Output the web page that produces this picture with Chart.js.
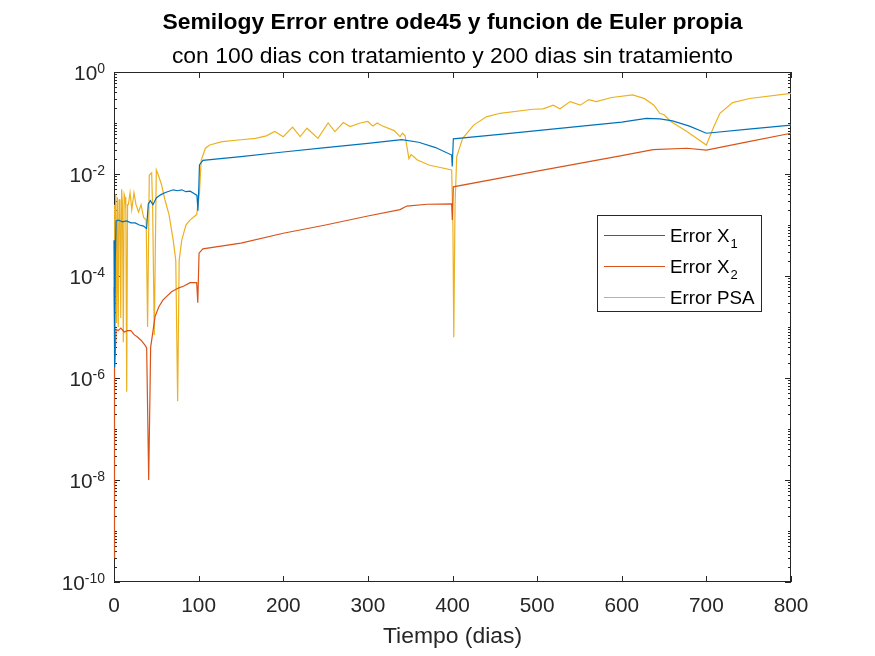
<!DOCTYPE html>
<html>
<head>
<meta charset="utf-8">
<script src="https://cdn.jsdelivr.net/npm/chart.js@4.4.1/dist/chart.umd.min.js"></script>
<style>
    html, body { margin: 0; padding: 0; background: #fff; }
    canvas { display: block; }
</style>
</head>
<body>
<canvas id="errChart" width="875" height="656"></canvas>
<script>
// Error X1 (blue)
const x1Days = [0, 0.7, 1.5, 2.5, 5, 10, 15, 20, 25, 30, 35, 38.5, 40.5, 43, 46, 50, 55, 60, 65, 70, 75, 80, 85, 90, 95, 98, 99.2, 100.3, 101, 105,
    150, 200, 250, 300, 340, 360, 380, 399, 399.7, 401, 456, 500, 550, 600, 629, 645, 660, 680, 700, 750, 800];
const x1Vals = [5e-4, 1.6e-6, 2e-4, 1.2e-3, 1.25e-3, 1.15e-3, 1.2e-3, 1.1e-3, 1.1e-3, 1.0e-3, 9.5e-4, 8.5e-4, 2.6e-3, 3.0e-3, 2.5e-3, 3.4e-3, 3.9e-3, 4.3e-3, 4.6e-3, 4.9e-3, 4.7e-3, 4.9e-3, 4.5e-3, 4.6e-3, 4.1e-3, 3.8e-3, 1.9e-3, 6e-3, 1.5e-2, 1.85e-2,
    2.2e-2, 2.7e-2, 3.3e-2, 4.0e-2, 4.7e-2, 4.2e-2, 3.3e-2, 2.35e-2, 1.4e-2, 4.9e-2, 6.0e-2, 7.1e-2, 8.6e-2, 1.04e-1, 1.23e-1, 1.2e-1, 1.1e-1, 8.7e-2, 6.3e-2, 7.6e-2, 9.1e-2];

// Error X2 (red)
const x2Days = [0, 0.4, 0.8, 1.5, 2.5, 5, 8, 12, 16, 20, 24, 27, 32, 37, 38.6, 41, 43.3, 48.5, 53, 58, 68, 76, 82, 90, 97.7, 99, 100.5, 105,
    150, 200, 250, 300, 338, 346, 370, 399, 399.8, 401, 456, 500, 550, 600, 637, 677, 700, 750, 800];
const x2Vals = [3e-10, 2e-8, 1.5e-6, 3e-6, 9e-6, 8.5e-6, 9.5e-6, 8e-6, 8.5e-6, 8.5e-6, 7e-6, 6.5e-6, 5.5e-6, 4.3e-6, 3.9e-6, 1e-8, 4e-6, 1.6e-5, 2.5e-5, 3.4e-5, 4.9e-5, 5.8e-5, 6.3e-5, 7.4e-5, 7.4e-5, 3e-5, 2.8e-4, 3.4e-4,
    4.4e-4, 6.9e-4, 1.0e-3, 1.5e-3, 2.0e-3, 2.35e-3, 2.55e-3, 2.6e-3, 1.25e-3, 5.6e-3, 8.3e-3, 1.14e-2, 1.62e-2, 2.3e-2, 3.0e-2, 3.2e-2, 2.95e-2, 4.3e-2, 6.3e-2];

// Error PSA (yellow)
const psaDays = [0, 0.5, 1, 2, 3, 4, 5, 6, 7, 8, 9, 10, 11, 12, 13, 14, 15, 16, 17, 19, 21, 23.6, 26, 29, 32, 35, 38, 39.7, 41.7, 44.5, 45.7, 47.6, 50, 52, 56, 60, 65, 70, 73, 75.2, 77, 80, 85, 90, 97.7, 101, 103, 108, 113, 128, 150, 167, 180, 190, 200, 211, 220, 228, 241, 253, 261, 271, 279, 291, 300, 306, 311, 316, 331, 338, 341, 344, 348.5, 351, 354, 358, 372, 399, 400.5, 401.5, 403, 405, 412, 425, 440, 456, 495, 507, 519, 527, 539, 551, 561, 570, 588, 613, 627, 638, 645, 650, 658, 677, 700, 708, 716, 731, 751, 800];
const psaVals = [6e-5, 2.5e-3, 1e-5, 4e-3, 1.2e-5, 3.5e-3, 1e-5, 3.2e-3, 2.5e-3, 1.5e-5, 5e-3, 2.5e-3, 5e-6, 4e-3, 3.5e-3, 2e-3, 5.4e-7, 2.5e-3, 2.5e-3, 4.3e-3, 2e-3, 4.3e-3, 2.5e-3, 1.8e-3, 2.5e-3, 1.4e-3, 1.26e-3, 1e-5, 9.5e-3, 1.05e-2, 2e-3, 7e-6, 1.2e-2, 1.0e-2, 6.3e-3, 3.2e-3, 1.6e-3, 5e-4, 2e-4, 3.5e-7, 2e-4, 5e-4, 1.0e-3, 1.26e-3, 1.6e-3, 4.3e-3, 1.86e-2, 3.2e-2, 3.7e-2, 4.3e-2, 4.7e-2, 5.0e-2, 5.6e-2, 6.8e-2, 5.4e-2, 8.3e-2, 5.4e-2, 7.9e-2, 5.0e-2, 1.0e-1, 6.8e-2, 1.02e-1, 8.5e-2, 1.0e-1, 1.07e-1, 8.7e-2, 1.0e-1, 8.9e-2, 7.1e-2, 5.4e-2, 6.3e-2, 5.6e-2, 2.0e-2, 2.4e-2, 2.2e-2, 1.9e-2, 1.5e-2, 1.2e-2, 1e-3, 6.3e-6, 2.5e-3, 2.2e-2, 5.0e-2, 9.1e-2, 1.32e-1, 1.55e-1, 1.86e-1, 1.9e-1, 2.24e-1, 1.9e-1, 2.63e-1, 2.24e-1, 2.88e-1, 2.63e-1, 3.16e-1, 3.55e-1, 3.0e-1, 2.24e-1, 1.55e-1, 1.45e-1, 1.07e-1, 6.8e-2, 3.7e-2, 7.9e-2, 1.55e-1, 2.51e-1, 3.02e-1, 3.8e-1];

const xTicks = [0, 100, 200, 300, 400, 500, 600, 700, 800];
const yTicks = [1e-10, 1e-8, 1e-6, 1e-4, 1e-2, 1];
const seriesNames = [['Error X', '1'], ['Error X', '2'], ['Error PSA', '']];
const seriesColors = ['#0072BD', '#D95319', '#EDB120'];

const FONT = '"Liberation Sans", Arial, Helvetica, sans-serif';
const AXIS = '#262626';

function toPoints(days, vals) {
    return days.map((d, i) => ({ x: d, y: vals[i] }));
}

/**
 * MATLAB-like box and inward ticks, drawn under the data
 */
const matlabAxes = {
    id: 'matlabAxes',
    beforeDatasetsDraw(chart) {
        const ctx = chart.ctx;
        const a = chart.chartArea;
        const xs = chart.scales.x;
        const ys = chart.scales.y;

        ctx.save();
        ctx.strokeStyle = AXIS;
        ctx.lineWidth = 1;
        ctx.strokeRect(a.left + 0.5, a.top + 0.5, a.right - a.left - 1, a.bottom - a.top - 1);

        ctx.beginPath();
        xTicks.forEach(v => {
            const px = Math.round(xs.getPixelForValue(v)) + 0.5;
            ctx.moveTo(px, a.bottom);
            ctx.lineTo(px, a.bottom - 6);
            ctx.moveTo(px, a.top);
            ctx.lineTo(px, a.top + 6);
        });

        // majors on labelled decades, minors elsewhere
        for (let k = -10; k <= 0; k++) {
            for (let d = 1; d <= 9; d++) {
                const v = d * Math.pow(10, k);
                if (v > 1) break;
                const major = d === 1 && yTicks.includes(v);
                const len = major ? 6 : 3;
                const py = Math.round(ys.getPixelForValue(v)) + 0.5;
                ctx.moveTo(a.left, py);
                ctx.lineTo(a.left + len, py);
                ctx.moveTo(a.right, py);
                ctx.lineTo(a.right - len, py);
            }
        }
        ctx.stroke();
        ctx.restore();
    }
};

/**
 * 10^n labels, titles and legend
 */
const matlabText = {
    id: 'matlabText',
    afterDraw(chart) {
        const ctx = chart.ctx;
        const a = chart.chartArea;
        const ys = chart.scales.y;

        ctx.save();
        ctx.fillStyle = AXIS;
        ctx.textBaseline = 'alphabetic';
        yTicks.forEach(v => {
            const py = ys.getPixelForValue(v);
            const exp = String(Math.round(Math.log10(v)));
            const right = a.left - 9;
            ctx.textAlign = 'right';
            ctx.font = '14px ' + FONT;
            ctx.fillText(exp, right, py + 1);
            const ew = ctx.measureText(exp).width;
            ctx.font = '20.8px ' + FONT;
            ctx.fillText('10', right - ew, py + 8);
        });

        const cx = (a.left + a.right) / 2;
        ctx.textAlign = 'center';
        ctx.fillStyle = '#000';
        ctx.font = 'bold 22.9px ' + FONT;
        ctx.fillText('Semilogy Error entre ode45 y funcion de Euler propia', cx, 29);
        ctx.font = '22.9px ' + FONT;
        ctx.fillText('con 100 dias con tratamiento y 200 dias sin tratamiento', cx, 63);

        // legend
        const lx = 597, ly = 215, lw = 164, lh = 96;
        ctx.fillStyle = '#fff';
        ctx.fillRect(lx, ly, lw, lh);
        ctx.strokeStyle = AXIS;
        ctx.lineWidth = 1;
        ctx.strokeRect(lx + 0.5, ly + 0.5, lw, lh);
        seriesNames.forEach((name, i) => {
            const ey = ly + 20 + i * 31;
            ctx.strokeStyle = seriesColors[i];
            ctx.lineWidth = 1.2;
            ctx.beginPath();
            ctx.moveTo(lx + 7, ey + 0.5);
            ctx.lineTo(lx + 68, ey + 0.5);
            ctx.stroke();
            ctx.fillStyle = '#000';
            ctx.textAlign = 'left';
            ctx.font = '18.75px ' + FONT;
            ctx.fillText(name[0], lx + 73, ey + 7);
            if (name[1]) {
                const w = ctx.measureText(name[0]).width;
                ctx.font = '13px ' + FONT;
                ctx.fillText(name[1], lx + 73 + w + 1, ey + 13);
            }
        });
        ctx.restore();
    }
};

new Chart(document.getElementById('errChart'), {
    type: 'line',
    data: {
        datasets: [
            { label: 'Error X1', data: toPoints(x1Days, x1Vals), borderColor: seriesColors[0] },
            { label: 'Error X2', data: toPoints(x2Days, x2Vals), borderColor: seriesColors[1] },
            { label: 'Error PSA', data: toPoints(psaDays, psaVals), borderColor: seriesColors[2] }
        ].map(ds => Object.assign(ds, { borderWidth: 1.2, pointRadius: 0, tension: 0, fill: false, clip: 2 }))
    },
    options: {
        responsive: false,
        animation: false,
        devicePixelRatio: 1,
        layout: { padding: { top: 72, right: 84, left: 0, bottom: 0 } },
        plugins: { legend: { display: false }, tooltip: { enabled: false } },
        scales: {
            x: {
                type: 'linear', min: 0, max: 800,
                grid: { display: false, drawTicks: false },
                border: { display: false },
                afterBuildTicks: s => { s.ticks = xTicks.map(v => ({ value: v })); },
                afterFit: s => { s.height = 74; },
                ticks: { font: { family: FONT, size: 20.8 }, color: AXIS, padding: 12, maxRotation: 0, autoSkip: false },
                title: { display: true, text: 'Tiempo (dias)', font: { family: FONT, size: 22.9 }, color: AXIS, padding: { top: 0, bottom: 6 } }
            },
            y: {
                type: 'logarithmic', min: 1e-10, max: 1,
                grid: { display: false, drawTicks: false },
                border: { display: false },
                afterBuildTicks: s => { s.ticks = yTicks.map(v => ({ value: v })); },
                afterFit: s => { s.width = 114; },
                ticks: { display: false }
            }
        }
    },
    plugins: [matlabAxes, matlabText]
});
</script>
</body>
</html>
